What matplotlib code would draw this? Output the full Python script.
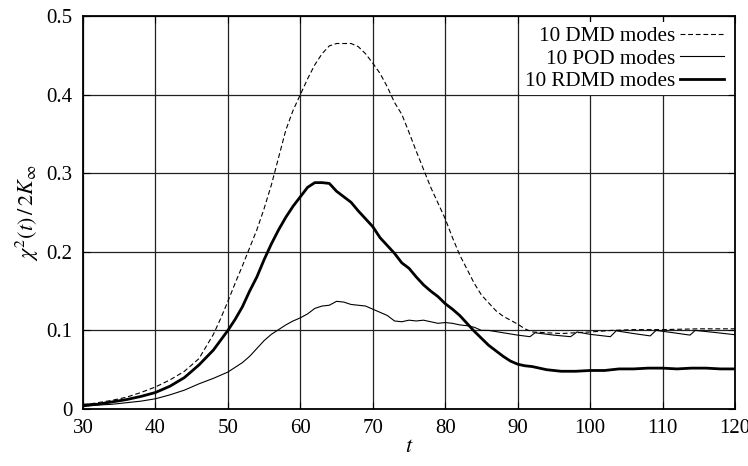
import matplotlib
matplotlib.use('Agg')
import matplotlib.pyplot as plt

# 10 DMD modes (dashed)
t_dmd = [30, 32, 34, 36, 38, 40, 42, 44, 46, 48, 49, 50, 51, 52, 53, 54, 55, 56, 57, 58, 59,
         60, 61, 62, 63, 64, 65, 66, 67, 68, 69, 70, 71, 72, 73, 74, 75, 76, 77, 78, 79,
         80, 81, 82, 83, 84, 85, 86, 87, 88, 89, 90, 91, 92, 94, 96, 98, 100, 103, 106,
         110, 115, 120]
chi_dmd = [0.005, 0.008, 0.011, 0.015, 0.021, 0.028, 0.037, 0.048, 0.064, 0.095, 0.115, 0.137,
           0.160, 0.182, 0.205, 0.228, 0.255, 0.285, 0.320, 0.355, 0.380,
           0.400, 0.420, 0.438, 0.452, 0.462, 0.465, 0.465, 0.465, 0.461, 0.452, 0.440,
           0.427, 0.410, 0.390, 0.375, 0.352, 0.328, 0.305, 0.282, 0.262,
           0.242, 0.218, 0.196, 0.178, 0.160, 0.145, 0.135, 0.125, 0.118, 0.113, 0.108,
           0.102, 0.098, 0.097, 0.096, 0.097, 0.098, 0.100, 0.101, 0.101, 0.102, 0.102]

# 10 POD modes (thin)
t_pod = [30, 32, 34, 36, 38, 40, 42, 44, 46, 48, 50, 52, 53, 54, 55, 56, 57, 58, 59,
         60, 61, 62, 63, 64, 65, 66, 67, 68, 69, 70, 71, 72, 73, 74, 75, 76, 77, 78, 79,
         80, 81, 82, 83, 84, 85, 86, 88, 90, 91.7, 92.4, 95, 97.3, 98.2, 100, 102.8, 103.6,
         106, 108.3, 109.1, 111.5, 113.8, 114.5, 117.1, 120]
chi_pod = [0.003, 0.005, 0.006, 0.008, 0.010, 0.013, 0.018, 0.024, 0.032, 0.039, 0.047,
           0.059, 0.067, 0.077, 0.087, 0.095, 0.101, 0.107, 0.112,
           0.116, 0.121, 0.128, 0.131, 0.132, 0.137, 0.136, 0.133, 0.132, 0.131, 0.127,
           0.123, 0.119, 0.112, 0.111, 0.113, 0.112, 0.113, 0.111, 0.109,
           0.110, 0.109, 0.107, 0.106, 0.104, 0.100, 0.100, 0.097, 0.094, 0.092, 0.097,
           0.094, 0.092, 0.098, 0.095, 0.092, 0.0995, 0.096, 0.093, 0.100, 0.097, 0.094,
           0.100, 0.0975, 0.0945]

# 10 RDMD modes (thick)
t_rdmd = [30, 32, 34, 36, 38, 40, 42, 44, 46, 48, 50, 51, 52, 53, 54, 55, 56, 57, 58, 59,
          60, 61, 62, 63, 64, 65, 66, 67, 68, 69, 70, 71, 72, 73, 74, 75, 76, 77, 78, 79,
          80, 81, 82, 83, 84, 85, 86, 87, 88, 89, 90, 91, 92, 94, 96, 98, 100, 102, 104,
          106, 108, 110, 112, 114, 116, 118, 120]
chi_rdmd = [0.005, 0.006, 0.009, 0.012, 0.016, 0.021, 0.029, 0.040, 0.056, 0.075, 0.100,
            0.114, 0.130, 0.150, 0.168, 0.190, 0.210, 0.228, 0.244, 0.258,
            0.270, 0.282, 0.288, 0.288, 0.287, 0.277, 0.270, 0.263, 0.252, 0.242, 0.232,
            0.218, 0.208, 0.198, 0.186, 0.179, 0.168, 0.158, 0.150, 0.143,
            0.134, 0.127, 0.119, 0.109, 0.099, 0.090, 0.081, 0.074, 0.067, 0.061, 0.057,
            0.055, 0.054, 0.050, 0.048, 0.048, 0.049, 0.049, 0.051, 0.051, 0.052, 0.052,
            0.051, 0.052, 0.052, 0.051, 0.051]

xticks = [30, 40, 50, 60, 70, 80, 90, 100, 110, 120]
yticks = [0, 0.1, 0.2, 0.3, 0.4, 0.5]
ylabels = ['0', '0.1', '0.2', '0.3', '0.4', '0.5']

plt.rcParams['font.family'] = ['Liberation Serif', 'DejaVu Serif']
plt.rcParams['mathtext.fontset'] = 'stix'
plt.rcParams['lines.scale_dashes'] = False

fig = plt.figure(figsize=(7.48, 4.66), dpi=100)
ax = fig.add_axes([83 / 748, 57 / 466, 652 / 748, 393 / 466])

ax.plot(t_dmd, chi_dmd, color='black', lw=0.8, dashes=(3.5, 2), label='10 DMD modes')
ax.plot(t_pod, chi_pod, color='black', lw=0.8, label='10 POD modes')
ax.plot(t_rdmd, chi_rdmd, color='black', lw=2.0, label='10 RDMD modes')

ax.set_xlim(30, 120)
ax.set_ylim(0, 0.5)
ax.set_xticks(xticks)
ax.set_yticks(yticks)
ax.set_yticklabels(ylabels)
ax.tick_params(direction='in', top=True, right=True, labelsize=15, length=5)
ax.tick_params(axis='x', pad=7.5)
ax.tick_params(axis='y', pad=7.5)
ax.set_axisbelow(True)
ax.grid(True, color='#222222', lw=0.9)
for s in ax.spines.values():
    s.set_linewidth(1.3)
    s.set_zorder(6)

ax.set_xlabel('$t$', fontsize=16, labelpad=0)
ax.set_ylabel(r'$\chi^2(t)\,/\,2K_\infty$', fontsize=16, labelpad=4)

# white key box hides the grid behind the labels, like gnuplot
leg = ax.legend(loc='upper right', frameon=True, markerfirst=False, fontsize=15.2,
                handlelength=2.1, handletextpad=0.25, labelspacing=0.12,
                borderaxespad=0.3, borderpad=0.2, fancybox=False)
leg.get_frame().set_facecolor('white')
leg.get_frame().set_edgecolor('none')
leg.get_frame().set_alpha(1.0)

fig.savefig('out.png', dpi=100)
